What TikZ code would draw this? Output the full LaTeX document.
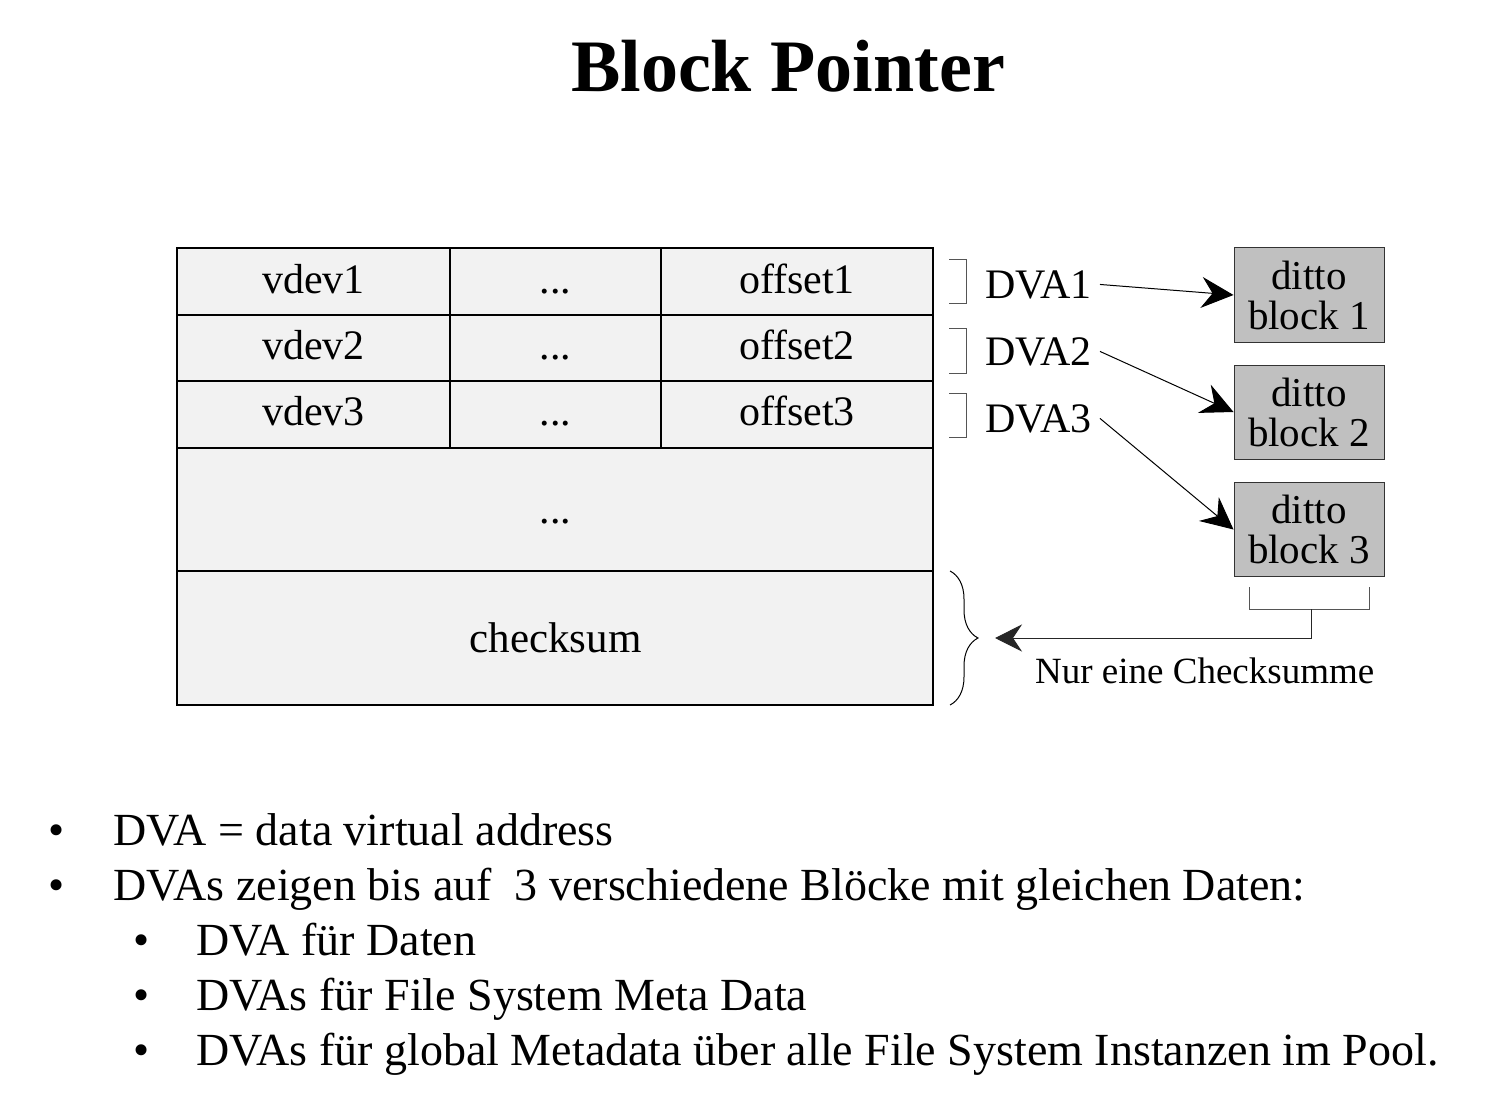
\documentclass[tikz,border=0pt]{standalone}
\usepackage{fontspec}
\setmainfont{Liberation Serif}
\usetikzlibrary{arrows.meta,decorations.pathreplacing}

\definecolor{tabfill}{HTML}{F2F2F2}
\definecolor{dittofill}{HTML}{C0C0C0}
\definecolor{bracketgray}{HTML}{555555}

\tikzset{
  cell/.style={anchor=base,inner sep=0pt,font=\fontsize{42}{46}\selectfont},
  dva/.style={anchor=base west,inner sep=0pt,inner xsep=8pt,font=\fontsize{42}{46}\selectfont},
  ditto/.style={draw=black!80,line width=1pt,fill=dittofill,minimum width=150pt,
    minimum height=94pt,inner sep=0pt,align=center,font=\fontsize{41}{40}\selectfont},
  ptr/.style={-{Stealth[length=32pt,width=31pt,inset=11pt]},line width=1pt},
  bullet/.style={anchor=base,inner sep=0pt,font=\fontsize{46}{55}\selectfont},
  item/.style={anchor=base west,inner sep=0pt,font=\fontsize{46}{55}\selectfont}
}

\begin{document}
\begin{tikzpicture}[x=1pt,y=-1pt]
    \useasboundingbox[fill=white] (0,0) rectangle (1494,1094);

    \node[anchor=base,inner sep=0pt,font=\bfseries\fontsize{74}{80}\selectfont] (title) at (788,92) {Block Pointer};

    % the block pointer table
    \draw[fill=tabfill,line width=1.5pt] (177,248) rectangle (933,705);
    \draw[line width=1.5pt] (177,315) -- (933,315);
    \draw[line width=1.5pt] (177,381) -- (933,381);
    \draw[line width=1.5pt] (177,448) -- (933,448);
    \draw[line width=1.5pt] (177,571) -- (933,571);
    \draw[line width=1.5pt] (450,248) -- (450,448);
    \draw[line width=1.5pt] (661,248) -- (661,448);

    \node[cell] (vdev1) at (313.5,293) {vdev1};
    \node[cell] (vdev2) at (313.5,359) {vdev2};
    \node[cell] (vdev3) at (313.5,425) {vdev3};
    \node[cell] (dots1) at (555.5,293) {...};
    \node[cell] (dots2) at (555.5,359) {...};
    \node[cell] (dots3) at (555.5,425) {...};
    \node[cell] (offset1) at (797,293) {offset1};
    \node[cell] (offset2) at (797,359) {offset2};
    \node[cell] (offset3) at (797,425) {offset3};
    \node[cell] (dotsmid) at (555.5,523) {...};
    \node[cell,font=\fontsize{43}{46}\selectfont] (checksum) at (555.5,652) {checksum};

    % DVA brackets
    \draw[bracketgray,line width=1pt] (949,259) -| (966,303) -- (949,303);
    \draw[bracketgray,line width=1pt] (949,328) -| (966,373) -- (949,373);
    \draw[bracketgray,line width=1pt] (949,393) -| (966,437) -- (949,437);

    \node[dva] (dva1) at (977,298) {DVA1};
    \node[dva] (dva2) at (977,365) {DVA2};
    \node[dva] (dva3) at (977,432) {DVA3};

    \node[ditto] (ditto1) at (1309,295) {ditto\\block 1};
    \node[ditto] (ditto2) at (1309,412) {ditto\\block 2};
    \node[ditto] (ditto3) at (1309,529.5) {ditto\\block 3};

    \draw[ptr] (dva1.east) -- (ditto1.west);
    \draw[ptr] (dva2.east) -- (ditto2.west);
    \draw[ptr] (dva3.east) -- (ditto3.west);

    % one checksum for all copies
    \draw[bracketgray,line width=1pt] (1249,587) |- (1369,609) -- (1369,587);
    \draw[line width=1pt,decorate,decoration={brace,amplitude=28pt}] (950,571) -- (950,705);
    \coordinate (csbr) at (1311,609);
    \coordinate (cstip) at (995,638);
    \draw[-{Stealth[length=27pt,width=27pt,inset=9pt]},line width=1pt,black!85] (csbr) |- (cstip);
    \node[anchor=base west,inner sep=0pt,font=\fontsize{37}{40}\selectfont] (nurone) at (1035,683) {Nur eine Checksumme};

    % bullet list
    \node[bullet] (b1) at (57,845) {•};
    \node[item] (t1) at (113,845) {DVA = data virtual address};
    \node[bullet] (b2) at (57,900) {•};
    \node[item] (t2) at (113,900) {DVAs zeigen bis auf\ \ 3 verschiedene Blöcke mit gleichen Daten:};
    \node[bullet] (b3) at (142,955) {•};
    \node[item] (t3) at (196,955) {DVA für Daten};
    \node[bullet] (b4) at (142,1010) {•};
    \node[item] (t4) at (196,1010) {DVAs für File System Meta Data};
    \node[bullet] (b5) at (142,1065) {•};
    \node[item] (t5) at (196,1065) {DVAs für global Metadata über alle File System Instanzen im Pool.};
\end{tikzpicture}
\end{document}
